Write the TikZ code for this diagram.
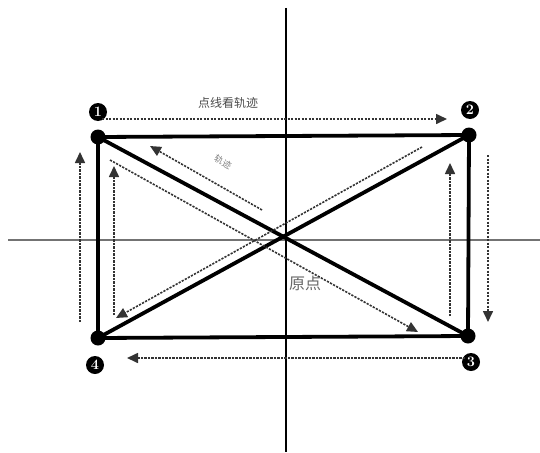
\documentclass[tikz,border=0pt]{standalone}
\usepackage{fontspec}
\newfontfamily\cjk{Noto Sans CJK SC}
\usetikzlibrary{arrows.meta}
\begin{document}
\begin{tikzpicture}[x=1pt,y=-1pt,
  edge/.style={line width=3.8pt},
  axisline/.style={line width=1.6pt},
  trail/.style={line width=1.6pt, black!80, dash pattern=on 2.2pt off 1.3pt, -{Triangle[length=11pt,width=10pt]}},
  corner/.style={circle,fill=black,minimum size=15pt,inner sep=0pt},
  num/.style={circle,fill=black,text=white,minimum size=18pt,inner sep=0pt,font=\bfseries\Large},
  lbl/.style={font=\cjk, text=black!70}]
\useasboundingbox (0,0) rectangle (540,452);
% axes
\coordinate (hl) at (8,240); \coordinate (hr) at (540,240);
\coordinate (vt) at (286,8); \coordinate (vb) at (286,452);
\draw[axisline, black!55] (hl) -- (hr);
\draw[axisline] (vt) -- (vb);
% corners
\node[corner] (c1) at (98,137) {};
\node[corner] (c2) at (469,135) {};
\node[corner] (c3) at (468,336) {};
\node[corner] (c4) at (98,338) {};
\draw[edge] (c1.center) -- (c2.center) -- (c3.center) -- (c4.center) -- cycle;
\draw[edge] (c1.center) -- (c3.center);
\draw[edge] (c2.center) -- (c4.center);
% numbers
\node[num] (n1) at (98,112) {1};
\node[num] (n2) at (470,110) {2};
\node[num] (n3) at (471,362) {3};
\node[num] (n4) at (95,365) {4};
% trails
\coordinate (t1a) at (102,119); \coordinate (t1b) at (447,119);
\draw[trail] (t1a) -- (t1b);
\coordinate (t2a) at (488,155); \coordinate (t2b) at (488,322);
\draw[trail] (t2a) -- (t2b);
\coordinate (t3a) at (450,316); \coordinate (t3b) at (450,163);
\draw[trail] (t3a) -- (t3b);
\coordinate (t4a) at (465,358); \coordinate (t4b) at (127,358);
\draw[trail] (t4a) -- (t4b);
\coordinate (t5a) at (80,322); \coordinate (t5b) at (80,152);
\draw[trail] (t5a) -- (t5b);
\coordinate (t6a) at (114,315); \coordinate (t6b) at (114,166);
\draw[trail] (t6a) -- (t6b);
\coordinate (t7a) at (262,210); \coordinate (t7b) at (150,146);
\draw[trail] (t7a) -- (t7b);
\coordinate (t8a) at (110,160); \coordinate (t8b) at (418,332);
\draw[trail] (t8a) -- (t8b);
\coordinate (t9a) at (422,147); \coordinate (t9b) at (116,318);
\draw[trail] (t9a) -- (t9b);
% labels
\node[lbl, font=\cjk\fontsize{12}{12}\selectfont] (title) at (228,103) {点线看轨迹};
\node[lbl, font=\cjk\fontsize{9}{9}\selectfont, text=black!50, rotate=-28, inner sep=0pt] (gj) at (223,162) {轨迹};
\node[lbl, font=\cjk\fontsize{16}{16}\selectfont, text=black!60] (origin) at (305,283) {原点};
\end{tikzpicture}
\end{document}
